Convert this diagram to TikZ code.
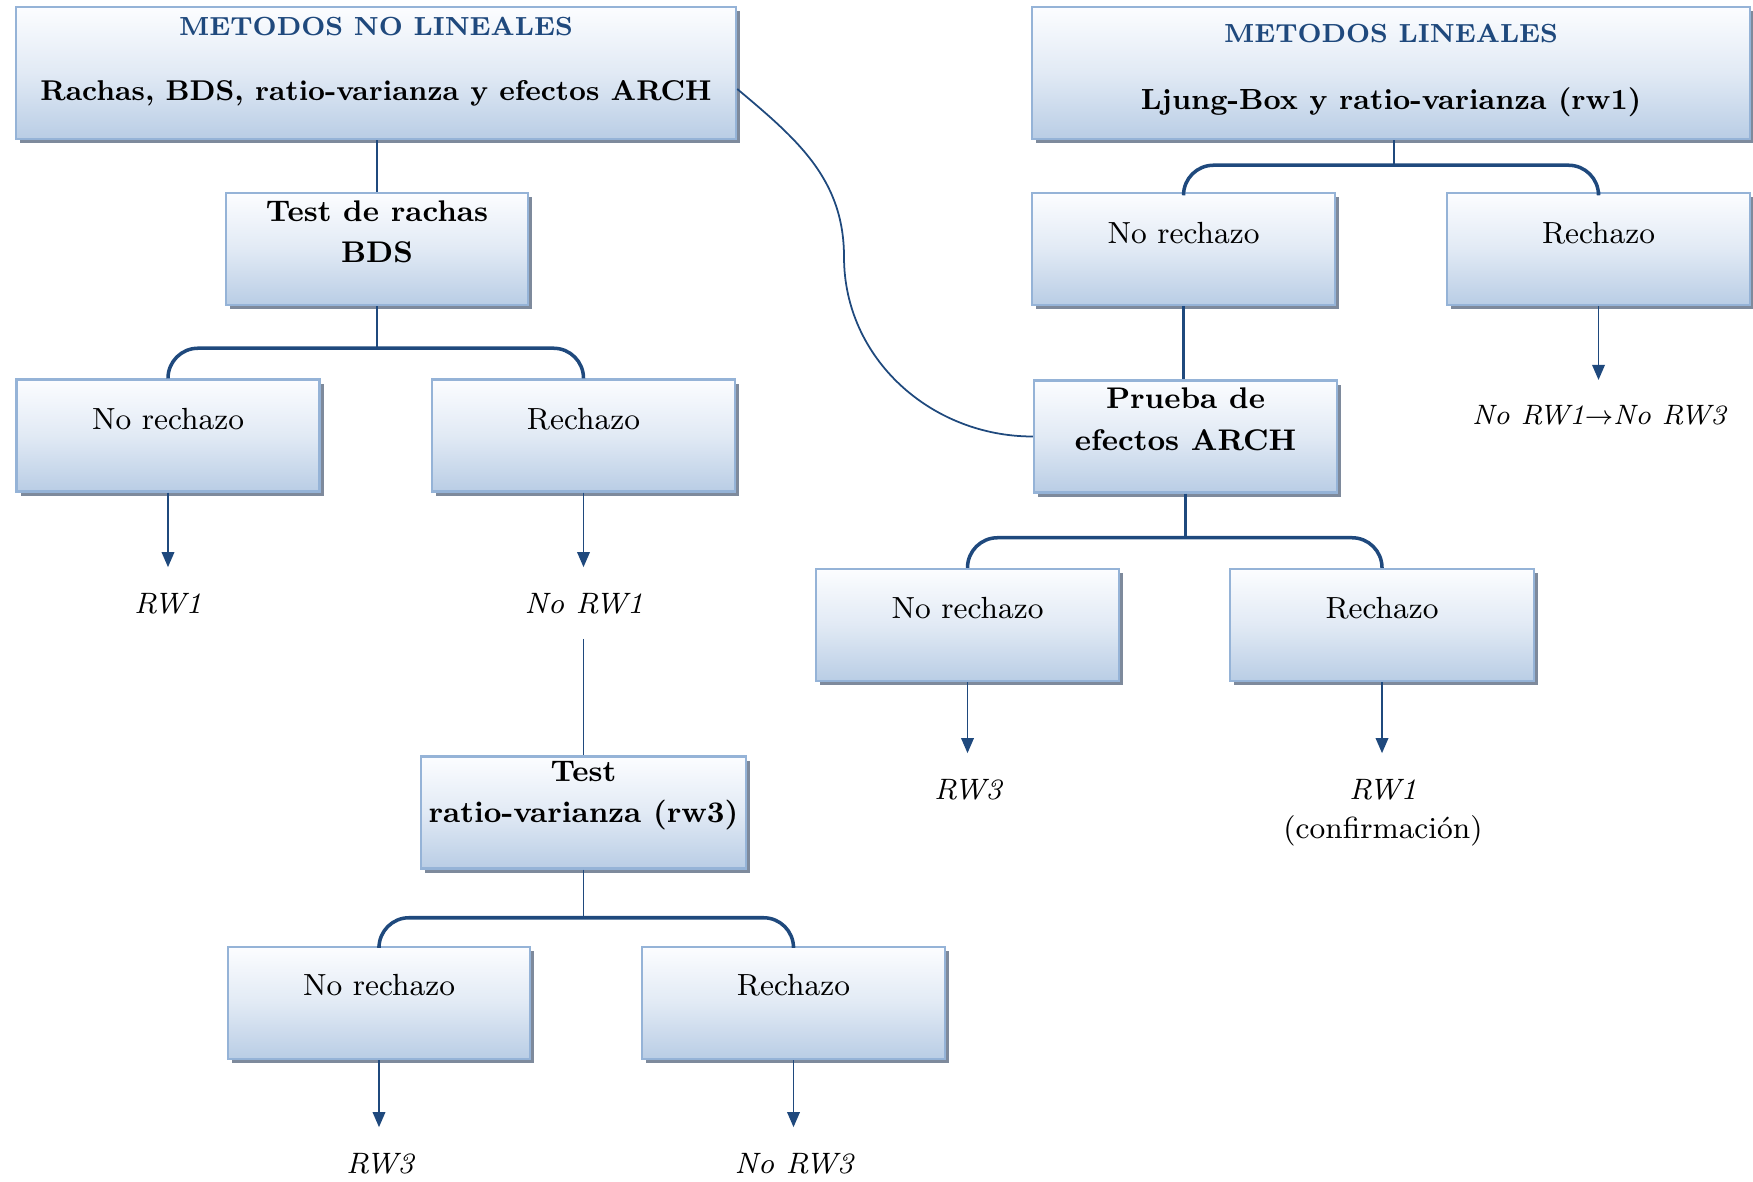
\documentclass[tikz,border=0pt]{standalone}
\usepackage{xcolor}
\definecolor{colLine}{HTML}{1F497D}
\definecolor{colBorder}{HTML}{95B3D7}
\definecolor{colTop}{HTML}{FCFDFF}
\definecolor{colBot}{HTML}{B9CDE5}
\definecolor{colShadow}{HTML}{7E8A9C}
\usepackage{tikz}
\usetikzlibrary{arrows.meta, positioning, shadows}

\begin{document}
\begin{tikzpicture}[>={Triangle[length=4.3pt,width=3.6pt]},
	box/.style={draw=colBorder, line width=0.7pt, top color=colTop, bottom color=colBot,
		middle color=colBot!40!colTop, minimum width=3.03cm, minimum height=1.12cm, inner sep=0pt,
		drop shadow={shadow xshift=1.2pt, shadow yshift=-1.2pt, fill=colShadow, opacity=1}},
	txt/.style={font=\fontsize{8.7}{11.7}\selectfont, align=center, inner sep=0pt},
	btxt/.style={font=\fontsize{8.5}{11.7}\selectfont\bfseries, align=center, inner sep=0pt},
	ttl/.style={font=\fontsize{8}{10}\selectfont\bfseries, text=colLine, inner sep=0pt,
		scale=0.93, transform shape},
	res/.style={font=\fontsize{8.4}{10}\selectfont\itshape, inner xsep=1pt, inner ysep=7pt,
		text height=6pt, text depth=0pt},
	stem/.style={colLine, line width=0.5pt},
	bar/.style={colLine, line width=1pt, rounded corners=0.3cm},
	arr/.style={->, colLine, line width=0.45pt}]
	\useasboundingbox (0,0) rectangle (17.53,-11.81);

	\node[box, minimum width=7.20cm, minimum height=1.32cm] (nl) at (3.76,-0.73) {};
	\node[ttl] at ([yshift=-0.21cm]nl.north) {METODOS NO LINEALES};
	\node[btxt, scale=0.958, transform shape] at ([yshift=-0.88cm]nl.north) {Rachas, BDS, ratio-varianza y efectos ARCH};
	\node[box, minimum width=7.18cm, minimum height=1.32cm] (lin) at (13.91,-0.73) {};
	\node[ttl] at ([yshift=-0.28cm]lin.north) {METODOS LINEALES};
	\node[btxt, scale=0.975, transform shape] at ([yshift=-0.96cm]lin.north) {Ljung-Box y ratio-varianza (rw1)};

	\node[box, minimum width=3.02cm] (rachas) at (3.77,-2.49) {};
	\node[btxt] at ([yshift=-0.40cm]rachas.north) {Test de rachas\\BDS};
	\node[box] (nr1) at (1.68,-4.355) {};
	\node[txt] at ([yshift=-0.41cm]nr1.north) {No rechazo};
	\node[box] (r1) at (5.835,-4.355) {};
	\node[txt] at ([yshift=-0.41cm]r1.north) {Rechazo};
	\node[res] (rw1a) at (1.68,-6.03) {RW1};
	\node[res] (norw1) at (5.84,-6.03) {No RW1};

	\node[box, minimum width=3.25cm] (ratio) at (5.835,-8.125) {};
	\node[btxt] at ([yshift=-0.40cm]ratio.north) {Test\\ratio-varianza (rw3)};
	\node[box, minimum width=3.02cm] (nr3) at (3.79,-10.03) {};
	\node[txt] at ([yshift=-0.39cm]nr3.north) {No rechazo};
	\node[box] (r3) at (7.935,-10.03) {};
	\node[txt] at ([yshift=-0.39cm]r3.north) {Rechazo};
	\node[res] (rw3a) at (3.80,-11.63) {RW3};
	\node[res] (norw3) at (7.94,-11.63) {No RW3};

	\node[box] (nrL) at (11.835,-2.49) {};
	\node[txt] at ([yshift=-0.41cm]nrL.north) {No rechazo};
	\node[box] (rL) at (15.985,-2.49) {};
	\node[txt] at ([yshift=-0.41cm]rL.north) {Rechazo};
	\node[res, scale=0.95, transform shape] (noto) at (15.99,-4.14) {No RW1$\rightarrow$No RW3};

	\node[box] (arch) at (11.855,-4.365) {};
	\node[btxt] at ([yshift=-0.40cm]arch.north) {Prueba de\\efectos ARCH};
	\node[box] (nrA) at (9.675,-6.25) {};
	\node[txt] at ([yshift=-0.40cm]nrA.north) {No rechazo};
	\node[box, minimum width=3.04cm] (rA) at (13.82,-6.25) {};
	\node[txt] at ([yshift=-0.40cm]rA.north) {Rechazo};
	\node[res] (rw3b) at (9.68,-7.89) {RW3};
	\node[res] (rw1b) at (13.83,-7.89) {RW1};
	\node[txt] (conf) at (13.83,-8.31) {(confirmación)};
	\coordinate (bend) at (8.44,-2.57);

	\draw[stem] (rachas.north |- nl.south) -- (rachas.north);
	\draw[stem] (rachas.south) -- ++(0,-0.42);
	\draw[bar] (nr1.north) |- ([yshift=-0.42cm]rachas.south) -| (r1.north);
	\draw[stem] (ratio.north |- norw1.south) -- (ratio.north);
	\draw[stem] (ratio.south) -- ++(0,-0.48);
	\draw[bar] (nr3.north) |- ([yshift=-0.48cm]ratio.south) -| (r3.north);
	\draw[stem, line width=0.7pt] ([xshift=0.03cm]lin.south) -- ++(0,-0.25);
	\draw[bar] (nrL.north) |- ([yshift=-0.25cm]lin.south) -| (rL.north);
	\draw[stem, line width=0.8pt] (nrL.south) -- (nrL.south |- arch.north);
	\draw[stem, line width=0.8pt] (arch.south) -- ++(0,-0.44);
	\draw[bar] (nrA.north) |- ([yshift=-0.44cm]arch.south) -| (rA.north);
	\draw[stem] ([yshift=-0.16cm]nl.east) to[out=-40, in=90] (bend) to[out=-90, in=180] (arch.west);
	\foreach \a/\b in {nr1/rw1a, r1/norw1, nr3/rw3a, r3/norw3, rL/noto, nrA/rw3b, rA/rw1b}{
		\draw[arr] (\a.south) -- (\a.south |- \b.north);
	}
\end{tikzpicture}
\end{document}
